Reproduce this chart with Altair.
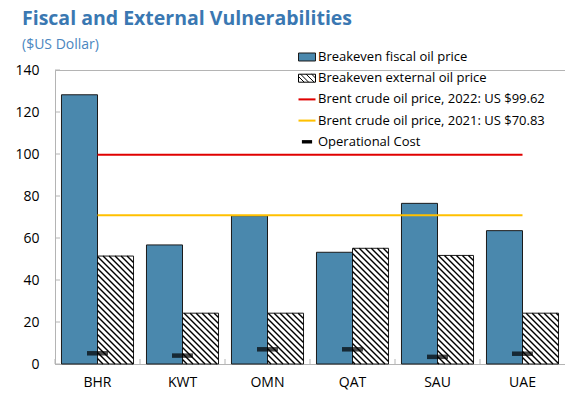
import altair as alt
import numpy as np
import pandas as pd

# ---- data ----
countries = ["BHR", "KWT", "OMN", "QAT", "SAU", "UAE"]
fiscal_breakeven = [128.2, 56.7, 70.6, 53.2, 76.5, 63.5]
external_breakeven = [51.4, 24.2, 24.2, 55.1, 51.7, 24.2]
operational_cost = [5.1, 4.0, 7.0, 7.0, 3.4, 4.9]
brent_2022 = 99.62
brent_2021 = 70.83
series_names = ["Breakeven fiscal oil price", "Breakeven external oil price"]
brent_labels = ["Brent crude oil price, 2022: US $99.62", "Brent crude oil price, 2021: US $70.83"]
cost_label = "Operational Cost"
y_ticks = [0, 20, 40, 60, 80, 100, 120, 140]

# ---- style / layout ----
FONT = "Open Sans"
BLUE = "#4a88ad"
RED = "#e00000"
YELLOW = "#ffc000"
GRAY = "#b4b4b4"
TITLE_BLUE = "#3a78b2"
PLOT_W, PLOT_H = 510, 294
Y_MAX = 140
GROUP_PAD = 0.18     # outer padding of the xOffset band scale
HATCH_PERIOD = 6.0   # horizontal spacing of hatch lines in px

bar_df = pd.DataFrame({
    "country": countries * 2,
    "series": [series_names[0]] * len(countries) + [series_names[1]] * len(countries),
    "value": fiscal_breakeven + external_breakeven,
})
cost_df = pd.DataFrame({"country": countries, "cost": operational_cost})
brent_df = pd.DataFrame({
    "label": brent_labels,
    "price": [brent_2022, brent_2021],
    "start": [countries[0]] * 2,
    "end": [countries[-1]] * 2,
})
ytick_df = pd.DataFrame({"v": y_ticks})

# diagonal hatch segments clipped to each external-breakeven bar
step = PLOT_W / len(countries)
sub = step / (2 + 2 * GROUP_PAD)
px_per_unit = PLOT_H / Y_MAX
segs = []
for i, v in enumerate(external_breakeven):
    x0 = i * step + GROUP_PAD * sub + sub
    x1 = x0 + sub
    h = v * px_per_unit
    c = np.ceil(x0 / HATCH_PERIOD) * HATCH_PERIOD
    while c < x1 + h:
        xa, xb = max(x0, c - h), min(x1, c)
        if xb - xa > 0.5:
            segs.append({"x": xa / step, "x2": xb / step,
                         "y": (c - xa) / px_per_unit, "y2": (c - xb) / px_per_unit})
        c += HATCH_PERIOD
hatch_df = pd.DataFrame(segs)

x_scale = alt.Scale(domain=countries, paddingInner=0, paddingOuter=0)
y_scale = alt.Scale(domain=[0, Y_MAX], nice=False, zero=True)
y_axis = alt.Axis(title=None, values=y_ticks, ticks=False, grid=False, labelPadding=16,
                  labelFontSize=14, labelColor="#000", domainColor=GRAY)

bars = alt.Chart(bar_df).mark_bar(stroke="#1a1a1a", strokeWidth=1).encode(
    x=alt.X("country:N", scale=x_scale, sort=countries,
            axis=alt.Axis(title=None, labelAngle=0, ticks=False, labelPadding=11,
                          labelFontSize=14, labelColor="#000", domainColor=GRAY)),
    xOffset=alt.XOffset("series:N", sort=series_names,
                        scale=alt.Scale(domain=series_names, paddingInner=0, paddingOuter=GROUP_PAD)),
    y=alt.Y("value:Q", scale=y_scale, axis=y_axis),
    color=alt.Color("series:N", scale=alt.Scale(domain=series_names, range=[BLUE, "white"]), legend=None),
)

hatch = alt.Chart(hatch_df).mark_rule(color="black", strokeWidth=1.4).encode(
    x=alt.X("x:Q", scale=alt.Scale(domain=[0, len(countries)], nice=False, zero=False), axis=None),
    x2="x2:Q",
    y=alt.Y("y:Q", scale=y_scale, axis=y_axis),
    y2="y2:Q",
)

def brent_line(label, color):
    return alt.Chart(brent_df).transform_filter(alt.datum.label == label).mark_rule(
        color=color, strokeWidth=2
    ).encode(
        x=alt.X("start:N", scale=x_scale, axis=None),
        x2="end:N",
        y=alt.Y("price:Q", scale=y_scale, axis=y_axis),
    )

cost = alt.Chart(cost_df).mark_tick(color="black", thickness=4.5, size=21).encode(
    x=alt.X("country:N", scale=x_scale, axis=None),
    y=alt.Y("cost:Q", scale=y_scale, axis=y_axis),
)

xticks = alt.Chart(pd.DataFrame({"country": countries})).mark_rule(color=GRAY).encode(
    x=alt.X("country:N", bandPosition=0, scale=x_scale, axis=None),
    y=alt.value(PLOT_H - 5),
    y2=alt.value(PLOT_H),
)
yticks = alt.Chart(ytick_df).mark_rule(color=GRAY).encode(
    x=alt.value(0), x2=alt.value(5),
    y=alt.Y("v:Q", scale=y_scale, axis=y_axis),
)

overlays = alt.layer(brent_line(brent_labels[0], RED), brent_line(brent_labels[1], YELLOW),
                     cost, xticks, yticks)

# legend: one merged legend built from shape/fill/stroke scales
legend_labels = series_names + brent_labels + [cost_label]
legend_shapes = [
    "M-1,-0.47H1V0.47H-1Z",
    "M-1,-0.47H1V0.47H-1Z M-0.75,-0.47L0.19,0.47 M-0.1,-0.47L0.84,0.47 M-1,-0.2L-0.33,0.47 M0.55,-0.47L1,-0.02",
    "M-1,-0.12H1V0.12H-1Z",
    "M-1,-0.12H1V0.12H-1Z",
    "M-0.6,-0.2H0.6V0.2H-0.6Z",
]
legend_fills = [BLUE, "white", RED, YELLOW, "black"]
legend_strokes = ["#1a1a1a", "black", "transparent", "transparent", "transparent"]
leg = alt.Legend(title=None, orient="none", legendX=243, legendY=-22, symbolSize=289,
                 symbolStrokeWidth=1, labelFontSize=13, labelFont=FONT, labelColor="#000",
                 rowPadding=5.2, labelOffset=2, padding=0, labelLimit=400)
legend_layer = alt.Chart(alt.Data(values=[])).mark_point(filled=True, opacity=1).encode(
    shape=alt.Shape("entry:N", scale=alt.Scale(domain=legend_labels, range=legend_shapes), legend=leg),
    fill=alt.Fill("entry:N", scale=alt.Scale(domain=legend_labels, range=legend_fills), legend=leg),
    stroke=alt.Stroke("entry:N", scale=alt.Scale(domain=legend_labels, range=legend_strokes), legend=leg),
)

chart = alt.layer(bars, hatch, overlays, legend_layer).resolve_scale(x="independent").properties(
    width=PLOT_W,
    height=PLOT_H,
    autosize="none",
    padding={"left": 55, "top": 70, "right": 0, "bottom": 37},
    title=alt.TitleParams(
        text="Fiscal and External Vulnerabilities",
        subtitle="($US Dollar)",
        anchor="start", frame="group", dx=-33, dy=23, offset=18,
        font=FONT, fontSize=19.5, fontWeight="bold", color=TITLE_BLUE,
        subtitleFont=FONT, subtitleFontSize=14, subtitleColor="#4a86c0", subtitlePadding=9,
    ),
).configure_view(stroke=GRAY, strokeWidth=1).configure_axis(labelFont=FONT)

chart.save("out.html", embed_options={"renderer": "svg", "actions": False})
